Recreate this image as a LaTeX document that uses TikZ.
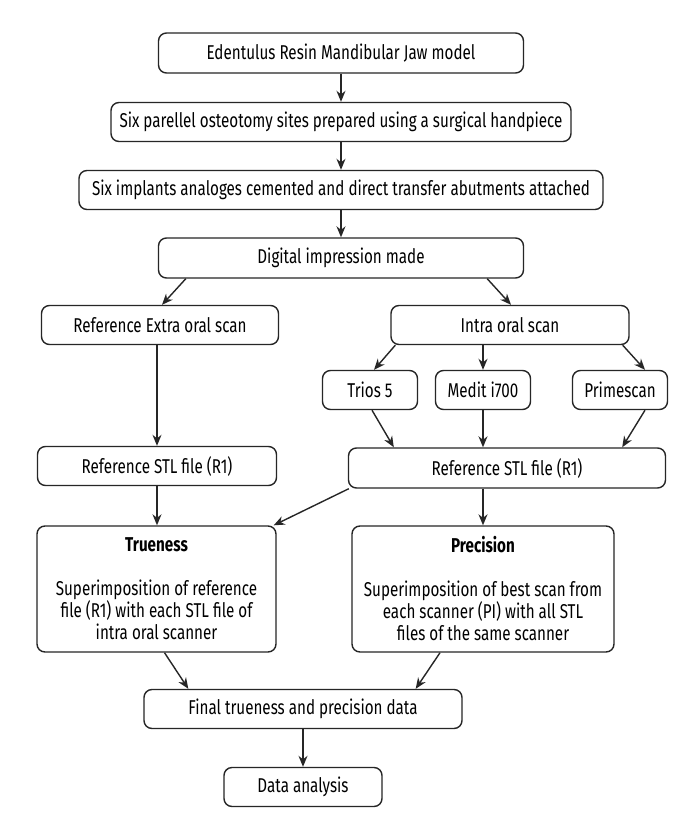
\documentclass[tikz,border=0pt]{standalone}
\usepackage{fontspec}
\setmainfont[FakeStretch=0.76]{Fira Sans}
\usetikzlibrary{arrows.meta}
\begin{document}
\begin{tikzpicture}[x=1pt,y=-1pt,
  box/.style={draw=black!85,line width=1.4pt,rounded corners=8pt,inner sep=2pt,
    font=\fontsize{20}{22}\selectfont,align=center},
  arr/.style={draw=black!85,line width=1.4pt,-{Stealth[length=11pt,width=9pt]}}]
\useasboundingbox[fill=white] (0,0) rectangle (700,840);
\node[box,minimum width=365pt,minimum height=40pt] (n1) at (341,53) {Edentulus Resin Mandibular Jaw model};
\node[box,minimum width=460pt,minimum height=39pt] (n2) at (341,122) {Six parellel osteotomy sites prepared using a surgical handpiece};
\node[box,minimum width=524pt,minimum height=39pt] (n3) at (341,190) {Six implants analoges cemented and direct transfer abutments attached};
\node[box,minimum width=365pt,minimum height=40pt] (n4) at (341,258) {Digital impression made};
\node[box,minimum width=237pt,minimum height=39pt] (ext) at (160,325) {Reference Extra oral scan};
\node[box,minimum width=238pt,minimum height=39pt] (intra) at (510,325) {Intra oral scan};
\node[box,minimum width=95pt,minimum height=39pt] (trios) at (370,390) {Trios 5};
\node[box,minimum width=95pt,minimum height=39pt] (medit) at (483,390) {Medit i700};
\node[box,minimum width=95pt,minimum height=39pt] (prime) at (620,390) {Primescan};
\node[box,minimum width=239pt,minimum height=39pt] (stlL) at (157,466) {Reference STL file (R1)};
\node[box,minimum width=317pt,minimum height=40pt] (stlR) at (507,468) {Reference STL file (R1)};
\node[box,minimum width=239pt,minimum height=126pt] (true) at (156.5,589) {\textbf{Trueness}\\[22pt]Superimposition of reference\\file (R1) with each STL file of\\intra oral scanner};
\node[box,minimum width=262pt,minimum height=126pt] (prec) at (483,589) {\textbf{Precision}\\[22pt]Superimposition of best scan from\\each scanner (PI) with all STL\\files of the same scanner};
\node[box,minimum width=318pt,minimum height=39pt] (final) at (303,709) {Final trueness and precision data};
\node[box,minimum width=158pt,minimum height=39pt] (data) at (303,787) {Data analysis};
\draw[arr] (n1) -- (n2);
\draw[arr] (n2) -- (n3);
\draw[arr] (n3) -- (n4);
\draw[arr] ([xshift=28pt]n4.south west) -- ([xshift=2pt]ext.north);
\draw[arr] ([xshift=-37pt]n4.south east) -- ([xshift=1pt]intra.north);
\draw[arr] ([xshift=5pt]intra.south west) -- ([xshift=4pt]trios.north);
\draw[arr] (medit.north |- intra.south) -- (medit.north);
\draw[arr] ([xshift=-7pt]intra.south east) -- ([xshift=25pt]prime.north);
\draw[arr] (stlL.north |- ext.south) -- (stlL.north);
\draw[arr] ([xshift=2pt]trios.south) -- ([xshift=46pt]stlR.north west);
\draw[arr] (medit.south) -- (medit.south |- stlR.north);
\draw[arr] ([xshift=25pt]prime.south) -- ([xshift=-44pt]stlR.north east);
\draw[arr] (stlL.south) -- (stlL.south |- true.north);
\draw[arr] ([xshift=1pt]stlR.south west) -- ([xshift=-3pt]true.north east);
\draw[arr] (prec.north |- stlR.south) -- (prec.north);
\draw[arr] ([xshift=8pt]true.south) -- ([xshift=45pt]final.north west);
\draw[arr] ([xshift=-43pt]prec.south) -- ([xshift=-47pt]final.north east);
\draw[arr] (final) -- (data);
\end{tikzpicture}
\end{document}
